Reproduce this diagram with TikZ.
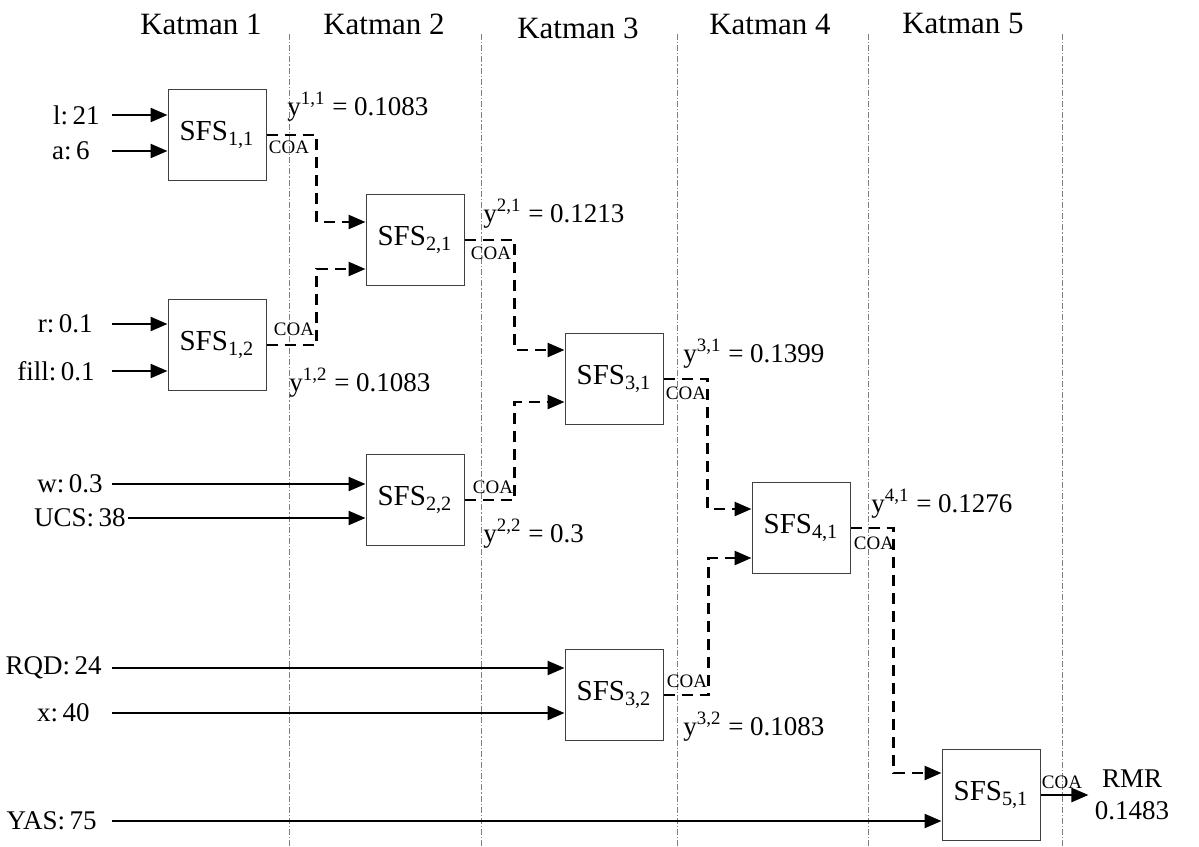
\documentclass[tikz,border=0pt]{standalone}
\usepackage{fontspec}
\setmainfont{Liberation Serif}
\usetikzlibrary{arrows.meta,positioning}
\tikzset{
  >={Triangle[length=8.5pt,width=7pt]},
  sfs/.style={
    draw=black!75, line width=0.5pt, rectangle, inner sep=0pt,
    minimum width=49pt, minimum height=45.5pt, font=\fontsize{14.5}{17}\selectfont
  },
  inp/.style={anchor=east, inner sep=0pt, font=\fontsize{13.5}{16}\selectfont},
  val/.style={anchor=base west, inner sep=0pt, font=\fontsize{13.5}{16}\selectfont},
  coa/.style={inner sep=0pt, font=\fontsize{9.5}{11}\selectfont},
  head/.style={inner sep=0pt, font=\fontsize{15.5}{18}\selectfont},
  sep/.style={gray, line width=0.5pt, dash pattern=on 3pt off 1pt on 0.6pt off 1pt},
  feed/.style={->, line width=1.2pt},
  link/.style={->, line width=1.3pt, dash pattern=on 5.5pt off 3.5pt},
}
\begin{document}
\begin{tikzpicture}[x=0.5pt, y=-0.5pt]
  \useasboundingbox (0,0) rectangle (1199,846);
  % layers
  \node[head] (k1) at (201,24) {Katman 1};
  \node[head] (k2) at (384,24) {Katman 2};
  \node[head] (k3) at (578,28) {Katman 3};
  \node[head] (k4) at (770,24) {Katman 4};
  \node[head] (k5) at (963,24) {Katman 5};
  \draw[sep] (289,34) -- (289,846);
  \draw[sep] (481,34) -- (481,846);
  \draw[sep] (677,34) -- (677,846);
  \draw[sep] (868,34) -- (868,846);
  \draw[sep] (1062,34) -- (1062,846);

  % blocks
  \node[sfs] (b11) at (217,135) {SFS\textsubscript{1,1}};
  \node[sfs] (b12) at (217,345) {SFS\textsubscript{1,2}};
  \node[sfs] (b21) at (415,240) {SFS\textsubscript{2,1}};
  \node[sfs] (b22) at (415,500) {SFS\textsubscript{2,2}};
  \node[sfs] (b31) at (614,379) {SFS\textsubscript{3,1}};
  \node[sfs] (b32) at (614,695) {SFS\textsubscript{3,2}};
  \node[sfs] (b41) at (801,528) {SFS\textsubscript{4,1}};
  \node[sfs] (b51) at (991,795) {SFS\textsubscript{5,1}};
  \node[align=center, inner sep=3pt, font=\fontsize{13.5}{16}\selectfont] (rmr) at (1132,795) {RMR\\0.1483};

  % inputs
  \coordinate (src) at (112,0);
  \node[inp] (l) at (100,115) {l:\,21};
  \node[inp] (a) at (90,151) {a:\,6};
  \node[inp] (r) at (93,324) {r:\,0.1};
  \node[inp] (fill) at (95,371) {fill:\,0.1};
  \node[inp] (w) at (103,484) {w:\,0.3};
  \node[inp] (ucs) at (126,518) {UCS:\,38};
  \node[inp] (rqd) at (102,668) {RQD:\,24};
  \node[inp] (x) at (90,713) {x:\,40};
  \node[inp] (yas) at (97,821) {YAS:\,75};
  \draw[feed] (src |- l) -- (l -| b11.west);
  \draw[feed] (src |- a) -- (a -| b11.west);
  \draw[feed] (src |- r) -- (r -| b12.west);
  \draw[feed] (src |- fill) -- (fill -| b12.west);
  \draw[feed] (src |- w) -- (w -| b22.west);
  \draw[feed] ([xshift=1pt]ucs.east) -- (ucs -| b22.west);
  \draw[feed] (src |- rqd) -- (rqd -| b32.west);
  \draw[feed] (src |- x) -- (x -| b32.west);
  \draw[feed] (src |- yas) -- (yas -| b51.west);

  % links between layers
  \draw[link] (b11.east) -- ++(50,0) |- ([yshift=9pt]b21.west);
  \draw[link] (b12.east) -- ++(50,0) |- ([yshift=-14.5pt]b21.west);
  \draw[link] (b21.east) -- ++(50,0) |- ([yshift=14.5pt]b31.west);
  \draw[link] (b22.east) -- ++(50,0) |- ([yshift=-11.5pt]b31.west);
  \draw[link] (b31.east) -- ++(44,0) |- ([yshift=9.5pt]b41.west);
  \draw[link] (b32.east) -- ++(45,0) |- ([yshift=-15pt]b41.west);
  \draw[link] (b41.east) -- ++(43,0) |- ([yshift=11pt]b51.west);
  \draw[feed] (b51) -- (rmr);

  % outputs
  \node[coa] (c11) at (289,147) {COA};
  \node[coa] (c12) at (294,329) {COA};
  \node[coa] (c21) at (491,253) {COA};
  \node[coa] (c22) at (493,487) {COA};
  \node[coa] (c31) at (686,393) {COA};
  \node[coa] (c32) at (687,681) {COA};
  \node[coa] (c41) at (874,543) {COA};
  \node[coa] (c51) at (1062,782) {COA};
  \node[val] (y11) at (287,115) {y\textsuperscript{1,1} = 0.1083};
  \node[val] (y12) at (289,391) {y\textsuperscript{1,2} = 0.1083};
  \node[val] (y21) at (483,222) {y\textsuperscript{2,1} = 0.1213};
  \node[val] (y22) at (483,542) {y\textsuperscript{2,2} = 0.3};
  \node[val] (y31) at (683,362) {y\textsuperscript{3,1} = 0.1399};
  \node[val] (y32) at (683,735) {y\textsuperscript{3,2} = 0.1083};
  \node[val] (y41) at (871,512) {y\textsuperscript{4,1} = 0.1276};
\end{tikzpicture}
\end{document}
